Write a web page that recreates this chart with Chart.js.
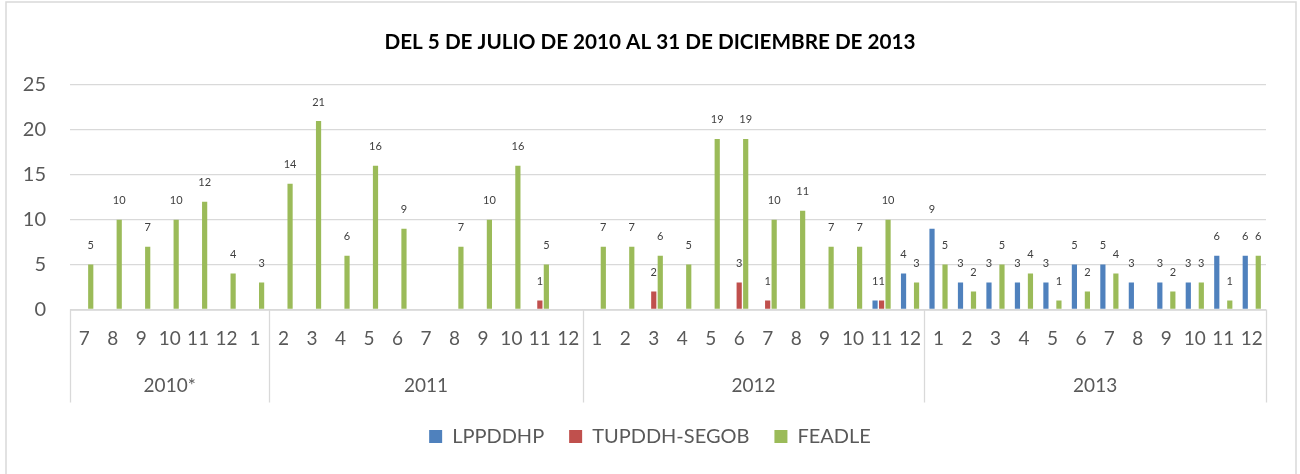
<!DOCTYPE html>
<html>
<head>
<meta charset="utf-8">
<script src="https://cdn.jsdelivr.net/npm/chart.js@4/dist/chart.umd.min.js"></script>
<style>
  html, body { margin: 0; padding: 0; background: #fff; }
  #wrap { width: 1300px; height: 474px; }
</style>
</head>
<body>
<div id="wrap"><canvas id="c" width="1300" height="474"></canvas></div>
<script>
// ---- Data ----
const months = ['7','8','9','10','11','12','1',
  '2','3','4','5','6','7','8','9','10','11','12',
  '1','2','3','4','5','6','7','8','9','10','11','12',
  '1','2','3','4','5','6','7','8','9','10','11','12'];
const years = ['2010*', '2011', '2012', '2013'];
const yearSizes = [7, 11, 12, 12];

const lppddhp = [null,null,null,null,null,null,null,
  null,null,null,null,null,null,null,null,null,null,null,
  null,null,null,null,null,null,null,null,null,null,1,4,
  9,3,3,3,3,5,5,3,3,3,6,6];
const tupddh = [null,null,null,null,null,null,null,
  null,null,null,null,null,null,null,null,null,1,null,
  null,null,2,null,null,3,1,null,null,null,1,null,
  null,null,null,null,null,null,null,null,null,null,null,null];
const feadle = [5,10,7,10,12,4,3,
  14,21,6,16,9,null,7,10,16,5,null,
  7,7,6,5,19,19,10,11,7,7,10,3,
  5,2,5,4,1,2,4,null,2,3,1,6];

const seriesNames = ['LPPDDHP', 'TUPDDH-SEGOB', 'FEADLE'];
const seriesColors = ['#4F81BD', '#C0504D', '#9BBB59'];
const yTicks = [0, 5, 10, 15, 20, 25];

const FONT = 'Lato, "Open Sans", sans-serif';
const GRID = '#D9D9D9';
const TXT = '#595959';

// ---- plugins ----
const framePlugin = {
  id: 'frame',
  afterLayout(chart) {
    // center title and legend on the whole canvas width
    [chart.titleBlock, chart.legend].forEach(b => {
      if (!b) return;
      b.left = 0; b.right = chart.width; b.width = chart.width;
    });
  },
  beforeDraw(chart) {
    const ctx = chart.ctx;
    ctx.save();
    ctx.strokeStyle = GRID;
    ctx.lineWidth = 1.5;
    ctx.strokeRect(6, 2, chart.width - 10, chart.height + 10);
    ctx.restore();
  }
};

const axisGroupPlugin = {
  id: 'axisGroups',
  afterDraw(chart) {
    const x = chart.scales.x;
    const ctx = chart.ctx;
    const n = months.length;
    const w = (x.right - x.left) / n;
    const top = chart.chartArea.bottom;
    const bottom = top + 93;
    ctx.save();
    ctx.strokeStyle = GRID;
    ctx.lineWidth = 1.3;
    ctx.beginPath();
    ctx.moveTo(x.left, top + 0.5);
    ctx.lineTo(x.right, top + 0.5);
    ctx.stroke();
    let idx = 0;
    const bounds = [0];
    yearSizes.forEach(s => { idx += s; bounds.push(idx); });
    bounds.forEach(b => {
      const px = Math.round(x.left + b * w) + 0.5;
      ctx.beginPath();
      ctx.moveTo(px, top);
      ctx.lineTo(px, bottom);
      ctx.stroke();
    });
    ctx.fillStyle = TXT;
    ctx.font = '19px ' + FONT;
    ctx.textAlign = 'center';
    ctx.textBaseline = 'middle';
    years.forEach((yr, i) => {
      const cx = x.left + (bounds[i] + bounds[i + 1]) / 2 * w;
      ctx.fillText(yr, cx, top + 76);
    });
    ctx.restore();
  }
};

const valueLabelPlugin = {
  id: 'valueLabels',
  afterDatasetsDraw(chart) {
    const ctx = chart.ctx;
    ctx.save();
    ctx.fillStyle = '#404040';
    ctx.font = '11px ' + FONT;
    ctx.textAlign = 'center';
    ctx.textBaseline = 'middle';
    chart.data.datasets.forEach((ds, di) => {
      const meta = chart.getDatasetMeta(di);
      meta.data.forEach((el, i) => {
        const v = ds.data[i];
        if (v === null || v === undefined) return;
        ctx.fillText(String(v), el.x, el.y - 19);
      });
    });
    ctx.restore();
  }
};

new Chart(document.getElementById('c'), {
  type: 'bar',
  data: {
    labels: months,
    datasets: [lppddhp, tupddh, feadle].map((d, i) => ({
      label: seriesNames[i],
      data: d,
      backgroundColor: seriesColors[i],
      borderWidth: 0,
      categoryPercentage: 0.685,
      barPercentage: 0.8
    }))
  },
  options: {
    responsive: false,
    animation: false,
    devicePixelRatio: 1,
    layout: { padding: { left: 0, right: 34, top: 0, bottom: 17.5 } },
    plugins: {
      title: {
        display: true,
        text: 'DEL 5 DE JULIO DE 2010 AL 31 DE DICIEMBRE DE 2013',
        color: '#000',
        font: { family: FONT, size: 20.7, weight: 'bold' },
        padding: { top: 29.6, bottom: 30.6 }
      },
      legend: {
        position: 'bottom',
        labels: {
          boxWidth: 13,
          boxHeight: 13,
          color: TXT,
          font: { family: FONT, size: 20 },
          padding: 25
        }
      },
      tooltip: { enabled: false }
    },
    scales: {
      x: {
        grid: { display: false, drawTicks: false },
        border: { display: false },
        ticks: {
          color: TXT,
          font: { family: FONT, size: 19 },
          autoSkip: false,
          maxRotation: 0,
          minRotation: 0,
          padding: 18
        },
        afterFit(s) { s.height = 92; }
      },
      y: {
        min: 0,
        max: 25,
        afterBuildTicks(s) { s.ticks = yTicks.map(v => ({ value: v })); },
        grid: { color: GRID, lineWidth: 1.3, drawTicks: false },
        border: { display: false },
        ticks: {
          color: TXT,
          font: { family: FONT, size: 20 },
          padding: 24
        },
        afterFit(s) { s.width = 70; }
      }
    }
  },
  plugins: [framePlugin, axisGroupPlugin, valueLabelPlugin]
});
</script>
</body>
</html>
